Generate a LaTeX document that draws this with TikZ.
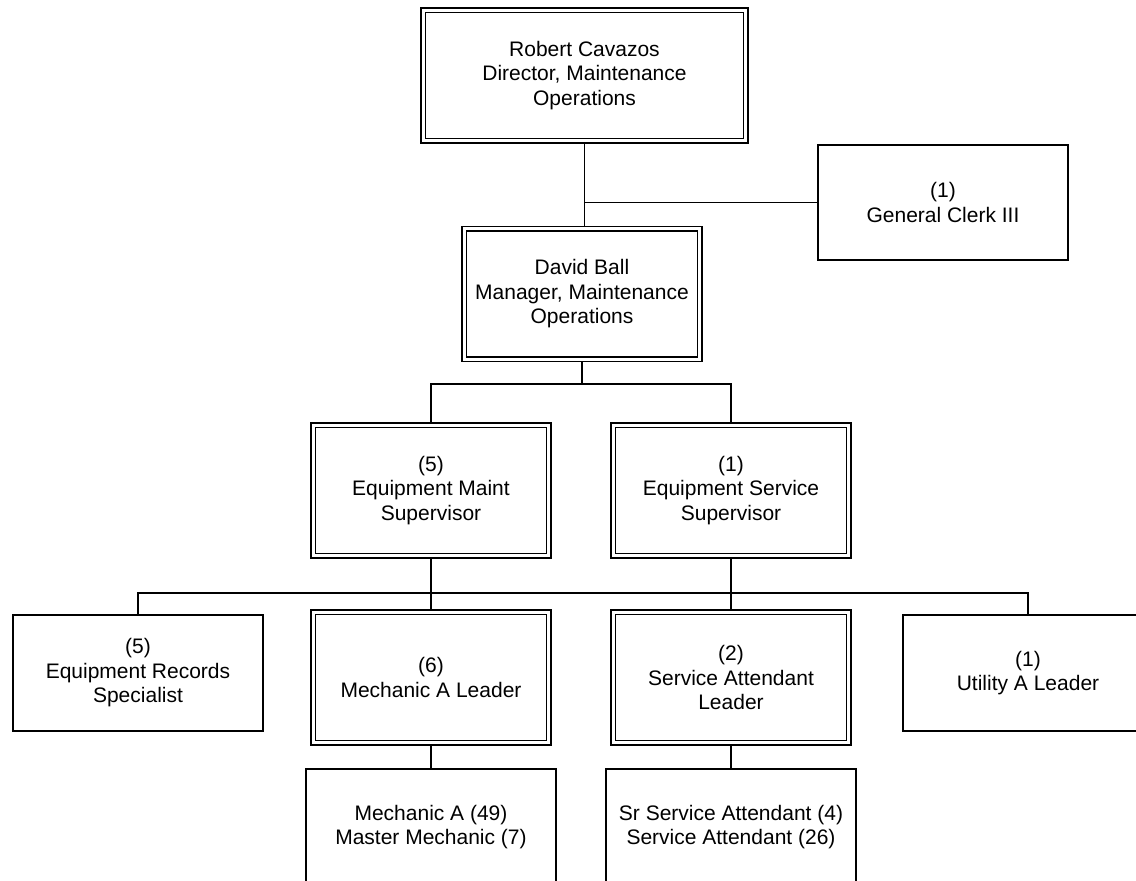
\documentclass[tikz,border=0pt]{standalone}
\usepackage{fontspec}
\setmainfont{Liberation Sans}
\begin{document}
\begin{tikzpicture}[x=1pt,y=-1pt]
\tikzset{
 base/.style={rectangle, draw=black, fill=white, line width=1.5pt, align=center, inner sep=0pt, font=\fontsize{21}{24.5}\selectfont},
 dbox/.style={base, double=white, double distance=2.8pt, outer sep=2.9pt, minimum width=235.7pt, minimum height=130.7pt},
 sbox/.style={base, outer sep=0.75pt, minimum width=250pt, minimum height=116pt},
 link/.style={line width=1.5pt, draw=black}
}
\clip (0,0) rectangle (1136,881);
\fill[white] (0,0) rectangle (1136,881);
% nodes
\node[dbox, minimum width=322.7pt] (robert) at (584.5,75.5) {Robert Cavazos\\Director, Maintenance\\Operations};
\node[sbox, minimum height=115pt] (clerk) at (943,202.5) {(1)\\General Clerk III};
\node[dbox] (david) at (582,294) {David Ball\\Manager, Maintenance\\Operations};
\node[dbox] (eqm) at (431,490.5) {(5)\\Equipment Maint\\Supervisor};
\node[dbox] (eqs) at (731,490.5) {(1)\\Equipment Service\\Supervisor};
\node[sbox] (rec) at (138,673) {(5)\\Equipment Records\\Specialist};
\node[dbox] (mal) at (431,677.5) {(6)\\Mechanic A Leader};
\node[dbox] (sal) at (731,677.5) {(2)\\Service Attendant\\Leader};
\node[sbox] (util) at (1028,673) {(1)\\Utility A Leader};
\node[sbox] (mech) at (431,827) {Mechanic A (49)\\Master Mechanic (7)};
\node[sbox] (sr) at (731,827) {Sr Service Attendant (4)\\Service Attendant (26)};
% connectors
\coordinate (cb) at (robert.south |- clerk.west);
\coordinate (b1) at (582,384);
\coordinate (bus) at (431,593);
\draw[link] (robert.south) -- (robert.south |- david.north);
\draw[link] (cb) -- (clerk.west);
\draw[link] (david.south) -- (b1);
\draw[link] (eqm.north) |- (b1) -| (eqs.north);
\draw[link] (rec.north) |- (bus) -| (util.north);
\draw[link] (eqm.south) -- (mal.north);
\draw[link] (eqs.south) -- (sal.north);
\draw[link] (mal.south) -- (mech.north);
\draw[link] (sal.south) -- (sr.north);
\end{tikzpicture}
\end{document}
